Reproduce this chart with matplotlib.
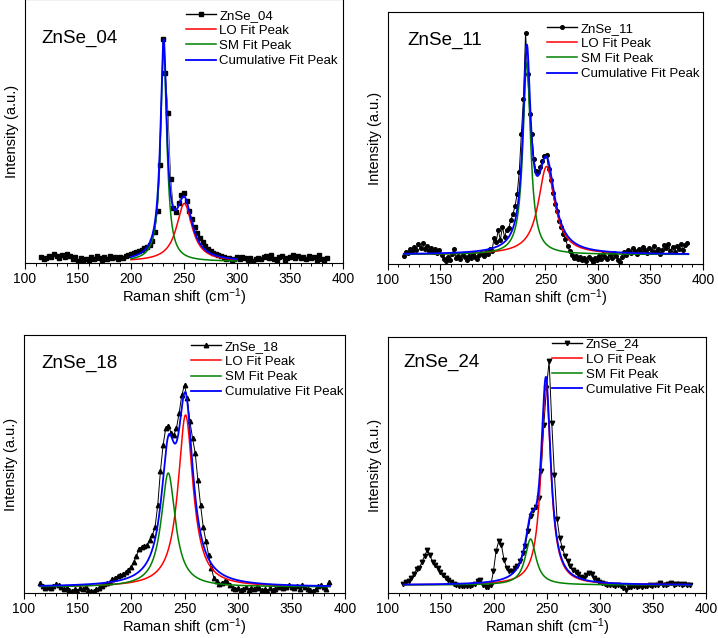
import numpy as np
import matplotlib
matplotlib.use("Agg")
import matplotlib.pyplot as plt

plt.rcParams.update({
    "font.family": "Liberation Sans",
    "mathtext.fontset": "custom",
    "mathtext.rm": "Liberation Sans",
    "mathtext.it": "Liberation Sans:italic",
    "mathtext.bf": "Liberation Sans:bold",
})

W, H = 718, 638

# ZnSe_04: x = 115 ... 385, step 2.5
x04_start, x04_step = 115.0, 2.5
y04 = [6, 4, 5, 7, 6, 9, 7, 5, 8, 6,
       9, 7, 4, 6, 2, 5, 1, 4, 3, 6,
       4, 7, 5, 3, 6, 4, 7, 5, 6, 4,
       6, 5, 7, 8, 9, 10, 11, 12, 13, 15,
       16, 18, 22, 31, 52, 98, 224, 190, 150, 84,
       55, 51, 60, 68, 70, 62, 52, 44, 36, 30,
       25, 21, 17, 14, 12, 10, 9, 8, 7, 6,
       4, 5, 3, 4, 6, 4, 6, 5, 3, 5,
       2, 4, 5, 4, 6, 7, 5, 8, 4, 3,
       6, 7, 2, 5, 6, 8, 5, 7, 5, 6,
       4, 7, 5, 6, 3, 8, 4, 3, 5]

# ZnSe_11: x = 115 ... 385, step 2
x11_start, x11_step = 115.0, 2.0
y11 = [8, 12, 11, 15, 13, 17, 14, 20, 16, 21,
       15, 18, 13, 16, 12, 15, 11, 14, 9, 5,
       3, 7, 4, 10, 15, 6, 8, 5, 9, 7,
       4, 8, 6, 10, 7, 5, 9, 11, 8, 12,
       10, 15, 13, 26, 22, 34, 24, 37, 27, 34,
       36, 44, 50, 58, 70, 92, 130, 165, 231, 190,
       150, 130, 105, 93, 92, 97, 103, 108, 109, 95,
       84, 71, 60, 53, 43, 37, 30, 25, 18, 13,
       9, 6, 8, 5, 7, 4, 6, 3, 7, 5,
       2, 6, 4, 8, 5, 10, 7, 5, 9, 6,
       11, 8, 4, 2, 7, 12, 9, 14, 11, 16,
       13, 10, 15, 12, 17, 14, 11, 16, 13, 18,
       12, 15, 10, 14, 19, 16, 20, 13, 17, 12,
       18, 15, 20, 14, 19, 21]

# ZnSe_18: x = 115 ... 385, step 2.5
x18_start, x18_step = 115.0, 2.5
y18 = [10, 7, 5, 6, 5, 7, 9, 8, 6, 4,
       5, 3, 2, 4, 2, 5, 4, 6, 3, 2,
       2, 4, 5, 7, 9, 10, 11, 14, 15, 17,
       18, 19, 21, 23, 26, 31, 37, 44, 46, 47,
       48, 53, 58, 66, 88, 122, 148, 165, 167, 160,
       158, 165, 180, 198, 208, 195, 172, 155, 140, 113,
       88, 66, 52, 38, 25, 15, 12, 9, 10, 12,
       11, 8, 5, 4, 5, 3, 4, 6, 3, 5,
       4, 6, 5, 3, 4, 2, 5, 3, 4, 6,
       7, 5, 6, 8, 6, 5, 7, 4, 8, 6,
       4, 3, 2, 4, 7, 8, 6, 4, 11]

# ZnSe_24: x = 114.5 ... 384.5, step 2.5
x24_start, x24_step = 114.5, 2.5
y24 = [9, 11, 12, 15, 19, 24, 25, 31, 37, 43,
       38, 31, 28, 25, 21, 18, 15, 13, 11, 9,
       8, 7, 7, 7, 7, 7, 8, 9, 12, 13,
       8, 6, 6, 8, 22, 42, 52, 48, 33, 25,
       22, 22, 25, 27, 32, 40, 47, 62, 77, 83,
       86, 95, 122, 168, 205, 232, 170, 118, 74, 55,
       45, 37, 32, 27, 23, 21, 19, 16, 15, 18,
       20, 19, 15, 13, 11, 10, 9, 8, 8, 8,
       7, 8, 7, 5, 3, 6, 6, 7, 6, 7,
       6, 7, 7, 8, 7, 8, 8, 10, 8, 8,
       9, 10, 8, 9, 9, 8, 9, 8, 8]

# ---- Lorentzian fit parameters: [baseline, LO centre, LO fwhm, LO height,
#      SM centre, SM fwhm, SM height], fit range ----
fit04 = [1.5, 250.3, 18.0, 58.0, 230.8, 7.2, 212.0]
fit11 = [9.5, 251.0, 19.0, 88.0, 232.2, 8.8, 192.0]
fit18 = [6.0, 251.0, 17.0, 172.0, 234.8, 16.0, 114.0]
fit24 = [8.0, 249.0, 11.0, 201.0, 234.5, 12.5, 46.0]
range04 = (200, 300)
range11 = (115, 386)
range18 = (115, 386)
range24 = (115, 386)

names = ["ZnSe_04", "ZnSe_11", "ZnSe_18", "ZnSe_24"]
markers = ["s", "o", "^", "v"]


def lorentz(x, x0, fwhm, amp):
    return amp / (1 + ((x - x0) / (fwhm / 2)) ** 2)


def axes_px(fig, left, top, right, bottom):
    return fig.add_axes([left / W, (H - bottom) / H, (right - left) / W, (bottom - top) / H])


fig = plt.figure(figsize=(W / 100, H / 100), dpi=100)

panels = [
    # axes box (l, t, r, b), data, fit, range, ylim, text pos, legend anchor
    (axes_px(fig, 25, -1, 343, 263), x04_start, x04_step, y04, fit04, range04, 264,
     (0.05, 0.852), (0.505, 0.96)),
    (axes_px(fig, 388, 12, 703, 264), x11_start, x11_step, y11, fit11, range11, 252,
     (0.06, 0.889), (0.505, 0.958)),
    (axes_px(fig, 24, 335, 345, 593), x18_start, x18_step, y18, fit18, range18, 258,
     (0.055, 0.89), (0.52, 0.978)),
    (axes_px(fig, 388, 337, 706, 593), x24_start, x24_step, y24, fit24, range24, 256,
     (0.047, 0.90), (0.516, 0.995)),
]

for i, (ax, xs, st, y, p, rng, ytop, tpos, lpos) in enumerate(panels):
    y = np.asarray(y, dtype=float)
    x = xs + st * np.arange(len(y))
    b, c1, w1, a1, c2, w2, a2 = p
    xf = np.linspace(rng[0], rng[1], 800)
    lo = b + lorentz(xf, c1, w1, a1)
    sm = b + lorentz(xf, c2, w2, a2)
    cum = b + lorentz(xf, c1, w1, a1) + lorentz(xf, c2, w2, a2)

    ms = 3.2 if markers[i] in "^v" else 2.6
    dlw = 0.4 if i == 0 else 0.7
    ax.plot(x, y, color="black", lw=dlw, marker=markers[i], ms=ms, label=names[i], zorder=2)
    ax.plot(xf, lo, color="#ff0000", lw=1.1, label="LO Fit Peak", zorder=3)
    ax.plot(xf, sm, color="#008000", lw=1.1, label="SM Fit Peak", zorder=3)
    ax.plot(xf, cum, color="#0000ff", lw=1.3, label="Cumulative Fit Peak", zorder=4)

    ax.set_xlim(100, 400)
    ax.set_ylim(0, ytop)
    ax.set_xticks(np.arange(100, 401, 50))
    ax.set_xticks(np.arange(100, 401, 10), minor=True)
    ax.set_yticks([])
    ax.tick_params(axis="x", which="major", direction="out", length=4, width=0.8,
                   labelsize=10, pad=2.5)
    ax.tick_params(axis="x", which="minor", direction="out", length=2.2, width=0.7)
    for s in ax.spines.values():
        s.set_linewidth(0.8)
    ax.set_xlabel("Raman shift (cm$^{-1}$)", fontsize=10.5, labelpad=0.5)
    ax.set_ylabel("Intensity (a.u.)", fontsize=10.5, labelpad=4)
    ax.text(tpos[0], tpos[1], names[i], transform=ax.transAxes, fontsize=13.5,
            ha="left", va="center")
    lg = ax.legend(loc="upper left", bbox_to_anchor=lpos, frameon=False, fontsize=9.5,
                   handlelength=2.3, handletextpad=0.25, labelspacing=0.22,
                   borderpad=0, borderaxespad=0, numpoints=1)
    lg.legend_handles[0].set_linewidth(1.0)

fig.savefig("out.png", dpi=100)
